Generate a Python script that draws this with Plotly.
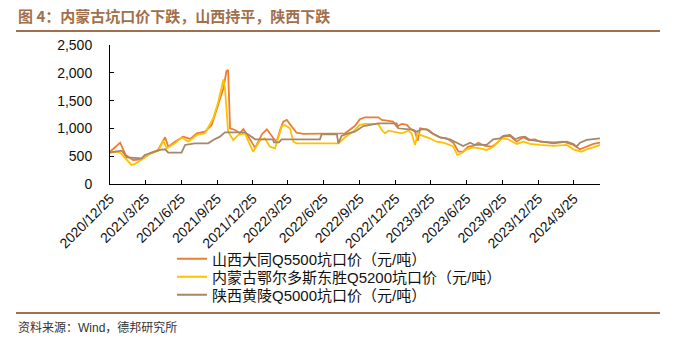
import plotly.graph_objects as go

# 山西大同Q5500坑口价（元/吨）
shanxi_dates = [
    "2020-12-25", "2021-01-09", "2021-01-20", "2021-02-03", "2021-02-22", "2021-03-16",
    "2021-04-06", "2021-04-27", "2021-05-15", "2021-05-23", "2021-06-09", "2021-06-30",
    "2021-07-18", "2021-08-04", "2021-08-25", "2021-09-11", "2021-09-28", "2021-10-11",
    "2021-10-19", "2021-10-23", "2021-10-28", "2021-11-10", "2021-11-22", "2021-12-01",
    "2021-12-14", "2021-12-31", "2022-01-18", "2022-01-30", "2022-02-16", "2022-02-24",
    "2022-03-05", "2022-03-13", "2022-03-22", "2022-04-04", "2022-04-16", "2022-05-03",
    "2022-08-18", "2022-09-12", "2022-09-25", "2022-10-08", "2022-11-11", "2022-11-20",
    "2022-12-07", "2022-12-19", "2022-12-28", "2023-01-10", "2023-01-23", "2023-01-31",
    "2023-02-13", "2023-02-20", "2023-02-26", "2023-03-19", "2023-04-01", "2023-04-18",
    "2023-05-05", "2023-05-22", "2023-06-04", "2023-06-16", "2023-06-29", "2023-07-12",
    "2023-07-25", "2023-08-11", "2023-08-28", "2023-09-10", "2023-09-27", "2023-10-14",
    "2023-10-31", "2023-11-17", "2023-11-30", "2023-12-17", "2023-12-30", "2024-02-02",
    "2024-02-27", "2024-03-24", "2024-04-10", "2024-04-27", "2024-05-14", "2024-05-31",
]
shanxi_values = [
    580, 680, 743, 522, 432, 444,
    552, 612, 840, 671, 761, 851,
    810, 912, 941, 1062, 1422, 1722,
    2034, 2052, 1002, 972, 912, 990,
    851, 650, 900, 984, 822, 761,
    972, 1121, 1152, 1031, 923, 900,
    912, 1043, 1164, 1200, 1200, 1152,
    1139, 1121, 1031, 1080, 1062, 1002,
    941, 780, 1002, 972, 900, 840,
    822, 743, 581, 581, 671, 684,
    743, 684, 671, 732, 851, 864,
    761, 840, 792, 804, 761, 750,
    761, 702, 624, 671, 720, 743,
]

# 内蒙古鄂尔多斯东胜Q5200坑口价（元/吨）
neimeng_dates = [
    "2020-12-25", "2021-01-09", "2021-01-20", "2021-02-01", "2021-02-18", "2021-02-27",
    "2021-03-16", "2021-04-06", "2021-04-28", "2021-05-10", "2021-05-19", "2021-06-09",
    "2021-06-26", "2021-07-13", "2021-08-04", "2021-08-25", "2021-09-15", "2021-09-28",
    "2021-10-11", "2021-10-15", "2021-10-23", "2021-11-05", "2021-11-18", "2021-12-05",
    "2021-12-18", "2021-12-26", "2022-01-13", "2022-01-25", "2022-02-07", "2022-02-20",
    "2022-02-28", "2022-03-09", "2022-03-17", "2022-03-30", "2022-04-08", "2022-04-16",
    "2022-08-01", "2022-08-18", "2022-09-08", "2022-09-25", "2022-10-08", "2022-11-11",
    "2022-11-20", "2022-11-28", "2022-12-07", "2022-12-24", "2023-01-10", "2023-01-27",
    "2023-02-04", "2023-02-13", "2023-02-20", "2023-02-26", "2023-03-23", "2023-04-09",
    "2023-04-26", "2023-05-13", "2023-05-22", "2023-06-01", "2023-06-12", "2023-06-25",
    "2023-07-12", "2023-07-29", "2023-08-15", "2023-09-01", "2023-09-23", "2023-10-09",
    "2023-10-31", "2023-11-17", "2023-12-04", "2023-12-30", "2024-02-02", "2024-03-07",
    "2024-03-24", "2024-04-14", "2024-04-27", "2024-05-14", "2024-05-31",
]
neimeng_values = [
    560, 580, 563, 468, 342, 360,
    444, 540, 600, 780, 642, 732,
    840, 761, 882, 912, 1182, 1481,
    1880, 1722, 941, 792, 882, 912,
    702, 581, 792, 822, 671, 642,
    822, 1031, 1062, 1002, 761, 732,
    732, 840, 941, 1062, 1080, 1080,
    972, 912, 959, 941, 912, 959,
    912, 702, 912, 882, 822, 761,
    743, 702, 671, 522, 552, 624,
    660, 642, 612, 671, 822, 804,
    720, 761, 720, 702, 684, 702,
    624, 581, 624, 660, 702,
]

# 陕西黄陵Q5000坑口价（元/吨）
shaanxi_dates = [
    "2020-12-25", "2021-01-24", "2021-02-06", "2021-03-16", "2021-03-24", "2021-05-02",
    "2021-05-15", "2021-05-23", "2021-06-26", "2021-07-05", "2021-07-30", "2021-09-02",
    "2021-09-15", "2021-10-02", "2021-10-15", "2021-12-05", "2021-12-22", "2021-12-31",
    "2022-02-15", "2022-02-17", "2022-03-02", "2022-03-09", "2022-06-15", "2022-06-19",
    "2022-07-28", "2022-08-01", "2022-08-09", "2022-08-26", "2022-09-12", "2022-10-04",
    "2022-11-11", "2022-12-28", "2023-01-01", "2023-02-09", "2023-02-17", "2023-03-02",
    "2023-03-15", "2023-03-28", "2023-04-18", "2023-05-13", "2023-05-31", "2023-06-16",
    "2023-07-04", "2023-07-16", "2023-08-15", "2023-09-01", "2023-09-18", "2023-09-27",
    "2023-10-14", "2023-10-27", "2023-11-08", "2023-11-21", "2023-12-04", "2023-12-30",
    "2024-02-02", "2024-03-07", "2024-03-24", "2024-04-01", "2024-04-10", "2024-04-27",
    "2024-05-31",
]
shaanxi_values = [
    570, 600, 480, 462, 522, 612,
    624, 563, 563, 702, 732, 732,
    792, 851, 930, 930, 851, 804,
    804, 750, 750, 804, 804, 894,
    894, 732, 864, 912, 941, 1043,
    1092, 1092, 1002, 972, 941, 984,
    984, 912, 840, 804, 743, 684,
    743, 702, 702, 804, 822, 864,
    882, 804, 840, 851, 792, 761,
    732, 761, 720, 671, 743, 792,
    822,
]

series_names = [
    "山西大同Q5500坑口价（元/吨）",
    "内蒙古鄂尔多斯东胜Q5200坑口价（元/吨）",
    "陕西黄陵Q5000坑口价（元/吨）",
]
tick_dates = [
    "2020-12-25", "2021-03-25", "2021-06-25", "2021-09-25", "2021-12-25",
    "2022-03-25", "2022-06-25", "2022-09-25", "2022-12-25", "2023-03-25",
    "2023-06-25", "2023-09-25", "2023-12-25", "2024-03-25",
]
tick_labels = [
    "2020/12/25", "2021/3/25", "2021/6/25", "2021/9/25", "2021/12/25",
    "2022/3/25", "2022/6/25", "2022/9/25", "2022/12/25", "2023/3/25",
    "2023/6/25", "2023/9/25", "2023/12/25", "2024/3/25",
]
y_ticks = [0, 500, 1000, 1500, 2000, 2500]

title_text = "图 4：内蒙古坑口价下跌，山西持平，陕西下跌"
source_text = "资料来源：Wind，德邦研究所"

# ---- page geometry (pixels) ----
W, H = 677, 346
L, R, T, B = 110, 600, 45, 184   # plot-area box


def px_x(x):
    return (x - L) / (R - L)


def px_y(y):
    return (B - y) / (B - T)


BROWN = "#A0704C"
LATIN_CJK = "Liberation Sans, Arial, Noto Sans CJK SC"
line_colors = ["#ED7D31", "#FFC000", "#A5876A"]
legend_ids = ["legend", "legend2", "legend3"]
legend_rows = [259, 277, 295]    # row centres, px

fig = go.Figure()
all_series = [
    (shanxi_dates, shanxi_values),
    (neimeng_dates, neimeng_values),
    (shaanxi_dates, shaanxi_values),
]
for i, (dates, vals) in enumerate(all_series):
    fig.add_trace(go.Scatter(
        x=dates, y=vals, name=series_names[i], mode="lines",
        line=dict(color=line_colors[i], width=1.8),
        legend=legend_ids[i],
    ))

legend_style = dict(
    xanchor="left", yanchor="middle",
    font=dict(family=LATIN_CJK, size=15, color="#111111"),
    bgcolor="rgba(0,0,0,0)", itemwidth=30,
)
fig.update_layout(
    width=W, height=H,
    margin=dict(l=L, r=W - R, t=T, b=H - B, pad=0),
    paper_bgcolor="white", plot_bgcolor="white",
    font=dict(family=LATIN_CJK, size=14, color="#111111"),
    showlegend=True,
    **{lid: dict(x=px_x(172), y=px_y(row), **legend_style)
       for lid, row in zip(legend_ids, legend_rows)},
)
fig.update_xaxes(
    type="date", range=["2020-12-25", "2024-05-31"],
    tickvals=tick_dates, ticktext=tick_labels, tickangle=-45,
    ticks="inside", ticklen=4, tickcolor="black",
    showline=True, linecolor="black", linewidth=1,
    showgrid=False, zeroline=False,
    tickfont=dict(family=LATIN_CJK, size=14, color="#111111"),
)
fig.update_yaxes(
    range=[0, 2500], tickvals=y_ticks, tickformat=",",
    ticks="inside", ticklen=4, tickcolor="black",
    showline=True, linecolor="black", linewidth=1,
    showgrid=False, zeroline=False, ticklabelstandoff=14,
    tickfont=dict(family=LATIN_CJK, size=14, color="#111111"),
)

# heading, rules and source note
fig.add_annotation(
    xref="paper", yref="paper", x=px_x(16), y=px_y(15),
    xanchor="left", yanchor="middle", showarrow=False,
    text="<b>" + title_text + "</b>",
    font=dict(family="Noto Sans CJK SC", size=15, color=BROWN),
)
fig.add_shape(type="line", xref="paper", yref="paper",
              x0=px_x(16), x1=px_x(660), y0=px_y(31), y1=px_y(31),
              line=dict(color=BROWN, width=2))
fig.add_shape(type="line", xref="paper", yref="paper",
              x0=px_x(16), x1=px_x(660), y0=px_y(313), y1=px_y(313),
              line=dict(color=BROWN, width=2))
fig.add_annotation(
    xref="paper", yref="paper", x=px_x(16), y=px_y(327),
    xanchor="left", yanchor="middle", showarrow=False,
    text=source_text,
    font=dict(family=LATIN_CJK, size=12, color="#333333"),
)

fig.write_html("out.html")
